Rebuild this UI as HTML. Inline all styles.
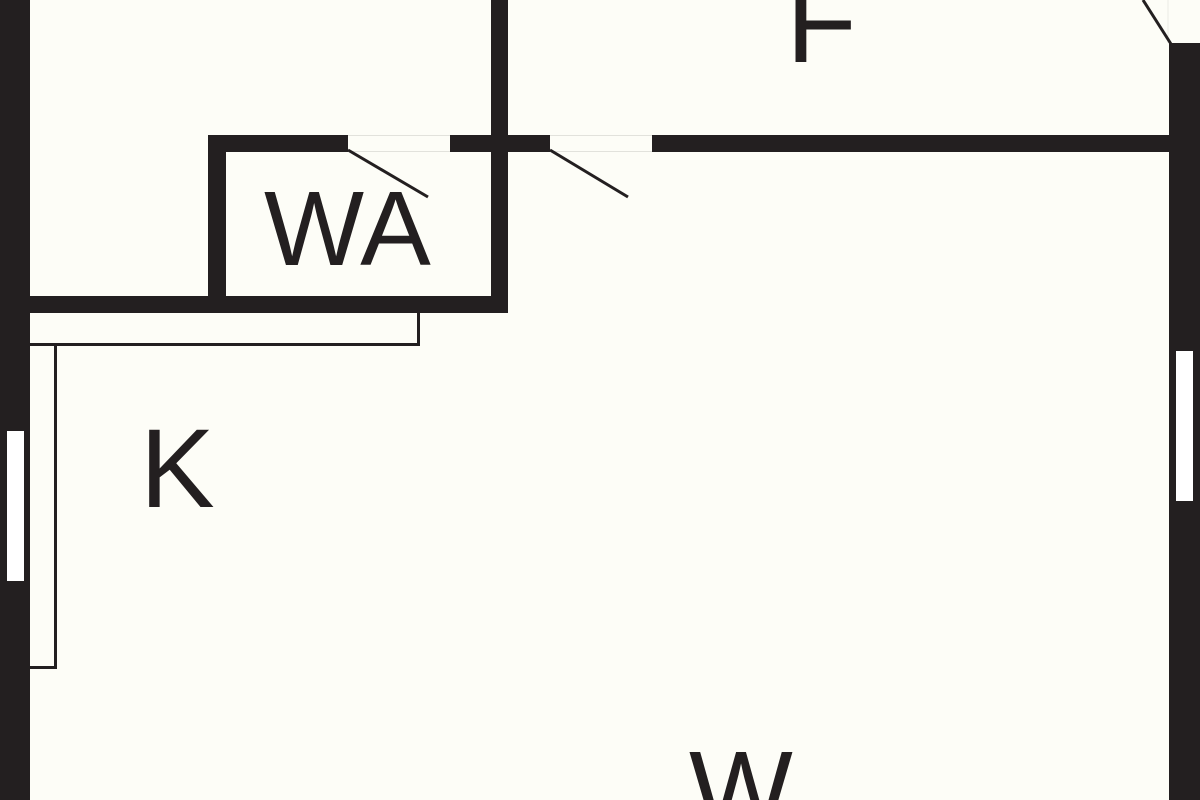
<!DOCTYPE html>
<html><head><meta charset="utf-8"><style>
html,body{margin:0;padding:0;width:1200px;height:800px;overflow:hidden;background:#fdfdf7}
svg{display:block;overflow:hidden}
text{font-family:"Liberation Sans",Arial,sans-serif;fill:#231f20}
</style></head><body>
<svg width="1200" height="800" viewBox="0 0 1200 800" xmlns="http://www.w3.org/2000/svg">
<defs><clipPath id="frame"><rect x="0" y="0" width="1200" height="800"/></clipPath></defs>
<g clip-path="url(#frame)">
<rect x="0" y="0" width="1200" height="800" fill="#fdfdf7"/>
<!-- faint door gap lines -->
<line x1="348" y1="135.5" x2="450" y2="135.5" stroke="#e2e2dc" stroke-width="1"/>
<line x1="348" y1="151.5" x2="450" y2="151.5" stroke="#e2e2dc" stroke-width="1"/>
<line x1="550" y1="135.5" x2="652" y2="135.5" stroke="#e2e2dc" stroke-width="1"/>
<line x1="550" y1="151.5" x2="652" y2="151.5" stroke="#e2e2dc" stroke-width="1"/>
<line x1="1168" y1="0" x2="1168" y2="43" stroke="#ececE6" stroke-width="1"/>
<g fill="#231f20">
<rect x="0" y="0" width="30" height="800"/>
<rect x="491" y="0" width="17" height="313"/>
<rect x="30" y="296" width="478" height="17"/>
<rect x="208" y="135" width="18" height="170"/>
<rect x="208" y="135" width="140" height="17"/>
<rect x="450" y="135" width="100" height="17"/>
<rect x="652" y="135" width="518" height="17"/>
<rect x="1169" y="43" width="31" height="757"/>
</g>
<rect x="7" y="431" width="17" height="150" fill="#ffffff"/>
<rect x="1176" y="351" width="17" height="150" fill="#ffffff"/>
<g stroke="#231f20" stroke-width="3" fill="none" stroke-linecap="butt">
<line x1="348" y1="150" x2="428" y2="197"/>
<line x1="550" y1="150" x2="628" y2="197"/>
<line x1="1143" y1="0" x2="1171" y2="44"/>
<path d="M30,344.5 H418.5 V313"/>
<path d="M30,667.5 H55.5 V346"/>
</g>
<text x="264" y="265" font-size="106">WA</text>
<text x="140" y="507" font-size="112">K</text>
<text x="786" y="62" font-size="116">F</text>
<text x="689" y="828" font-size="110">W</text>
</g>
</svg>
</body></html>
